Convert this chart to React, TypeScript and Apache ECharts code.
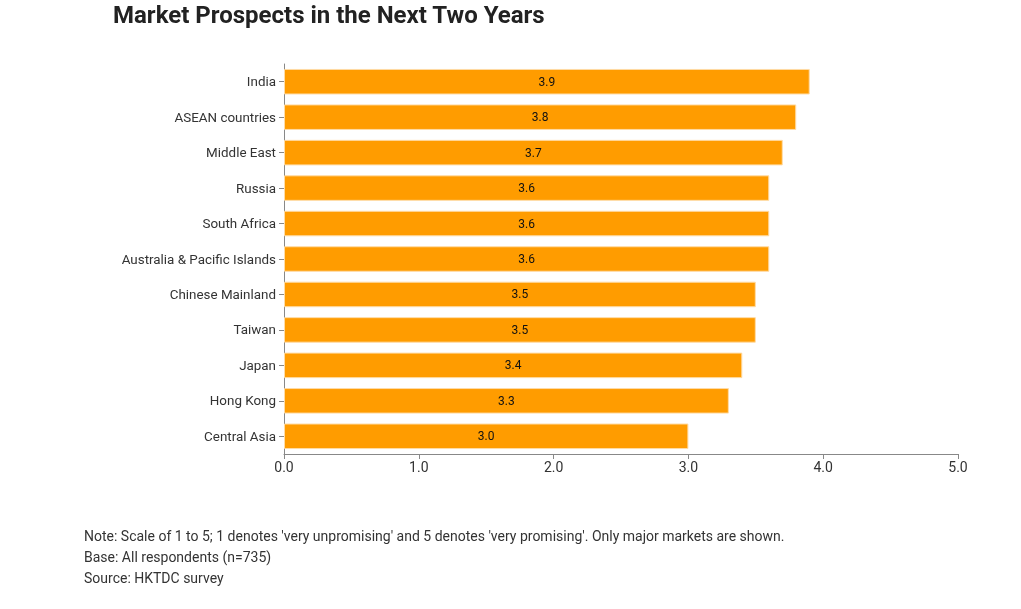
import React, { useEffect, useRef } from "react";
import * as echarts from "echarts";

const categories = [
  "India",
  "ASEAN countries",
  "Middle East",
  "Russia",
  "South Africa",
  "Australia & Pacific Islands",
  "Chinese Mainland",
  "Taiwan",
  "Japan",
  "Hong Kong",
  "Central Asia",
];
const values = [3.9, 3.8, 3.7, 3.6, 3.6, 3.6, 3.5, 3.5, 3.4, 3.3, 3.0];
const titleText = "Market Prospects in the Next Two Years";
const notes = [
  "Note: Scale of 1 to 5; 1 denotes 'very unpromising' and 5 denotes 'very promising'. Only major markets are shown.",
  "Base: All respondents (n=735)",
  "Source: HKTDC survey",
];

export default function App() {
  const ref = useRef<HTMLDivElement>(null);
  useEffect(() => {
    if (!ref.current) return;
    const chart = echarts.init(ref.current, null, { renderer: "svg" });
    const font = "Roboto";
    chart.setOption({
      animation: false,
      textStyle: { fontFamily: font },
      title: {
        text: titleText,
        left: 113,
        top: 3,
        padding: 0,
        textStyle: { fontFamily: font, fontSize: 24, fontWeight: "bold", color: "#222" },
      },
      grid: { left: 284, right: 63, top: 64, bottom: 155 },
      xAxis: {
        type: "value",
        min: 0,
        max: 5,
        interval: 1,
        axisLine: { show: true, lineStyle: { color: "#888" } },
        axisTick: { show: true, length: 5, lineStyle: { color: "#888" } },
        splitLine: { show: false },
        axisLabel: {
          color: "#333",
          fontSize: 14,
          fontFamily: font,
          margin: 6,
          formatter: (v: number) => v.toFixed(1),
        },
      },
      yAxis: {
        type: "category",
        data: categories,
        inverse: true,
        axisLine: { show: true, lineStyle: { color: "#888" } },
        axisTick: { show: true, length: 5, alignWithLabel: true, lineStyle: { color: "#888" } },
        axisLabel: { color: "#333", fontSize: 13.4, fontFamily: font, margin: 8 },
      },
      series: [
        {
          type: "bar",
          data: values,
          barCategoryGap: "28%",
          itemStyle: { color: "#ff9c00", borderColor: "#ffdca6", borderWidth: 1 },
          label: {
            show: true,
            position: "inside",
            color: "#111",
            fontSize: 12,
            fontFamily: font,
            formatter: (p: any) => Number(p.value).toFixed(1),
          },
        },
      ],
      graphic: notes.map((t, i) => ({
        type: "text",
        left: 84,
        top: 529 + i * 21,
        style: { text: t, fill: "#333", fontSize: 14, fontFamily: font },
      })),
    });
    return () => chart.dispose();
  }, []);
  return (
    <div
      ref={ref}
      style={{ position: "fixed", left: 0, top: 0, width: 1021, height: 609 }}
    />
  );
}
